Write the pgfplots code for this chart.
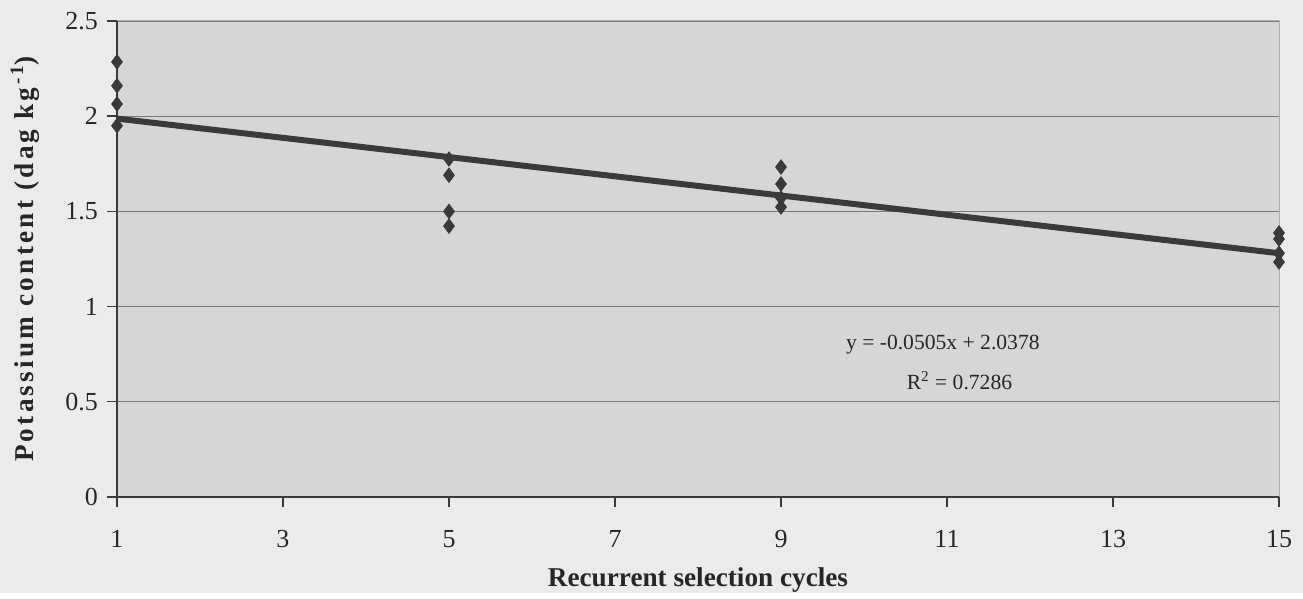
\documentclass[border=0pt]{standalone}
\usepackage{pgfplots}
\pgfplotsset{compat=1.18}
\usepackage{fontspec}
\setmainfont{Liberation Serif}
\usetikzlibrary{calc}
\definecolor{pagebg}{HTML}{EBEBEB}
\definecolor{plotbg}{HTML}{D6D6D6}
\definecolor{gridc}{HTML}{7A7A7A}
\definecolor{dark}{HTML}{3A3A3A}
\begin{document}
\begin{tikzpicture}
\fill[pagebg] (-58.5pt,-48pt) rectangle (593pt,248.5pt);
\begin{axis}[
  scale only axis,
  width=581pt, height=238pt,
  at={(0,0)}, anchor=south west,
  xmin=1, xmax=15, ymin=0, ymax=2.5,
  xtick={1,3,5,7,9,11,13,15},
  ytick={0,0.5,1,1.5,2,2.5},
  yticklabels={0,0.5,1,1.5,2,2.5},
  xtick pos=bottom, ytick pos=left,
  /pgf/number format/assume math mode=true,
  tick label style={font=\fontsize{13}{15}\selectfont, text=black!85},
  axis background/.style={fill=plotbg},
  axis line style={draw=none},
  ymajorgrids,
  major grid style={draw=gridc, line width=0.6pt},
  tick style={draw=dark, line width=0.7pt},
  tick align=outside,
  major tick length=5pt,
  xticklabel style={yshift=-8pt},
  yticklabel style={xshift=-1pt},
  xlabel={\bfseries Recurrent selection cycles},
  ylabel={\addfontfeatures{LetterSpace=12}\bfseries Potassium content (dag kg\textsuperscript{\,-1})},
  label style={font=\fontsize{13.6}{15}\selectfont, text=black!85},
  xlabel style={yshift=-3pt},
  ylabel style={yshift=6pt},
  clip=false,
]
\draw[gridc!60, line width=0.5pt] (axis cs:1,2.5) -- (axis cs:15,2.5) -- (axis cs:15,0);
\draw[dark, line width=0.9pt] (axis cs:1,0) -- (axis cs:15,0);
\draw[dark, line width=0.9pt] (axis cs:1,0) -- (axis cs:1,2.5);
\addplot[only marks, mark=diamond*, mark size=3.6pt, draw=dark, fill=dark] coordinates {
  (1,2.285) (1,2.16) (1,2.064) (1,1.95)
  (5,1.775) (5,1.69) (5,1.50) (5,1.423)
  (9,1.733) (9,1.644) (9,1.57) (9,1.523)
  (15,1.387) (15,1.355) (15,1.28) (15,1.234)
};
\addplot[dark, line width=3pt] coordinates {(1,1.9873) (15,1.2803)};
\node[font=\fontsize{10.8}{13}\selectfont, text=black!85] at (axis cs:10.95,0.80) {y = -0.0505x + 2.0378};
\node[font=\fontsize{10.8}{13}\selectfont, text=black!85] at (axis cs:11.15,0.61) {R\textsuperscript{2} = 0.7286};
\end{axis}
\end{tikzpicture}
\end{document}
